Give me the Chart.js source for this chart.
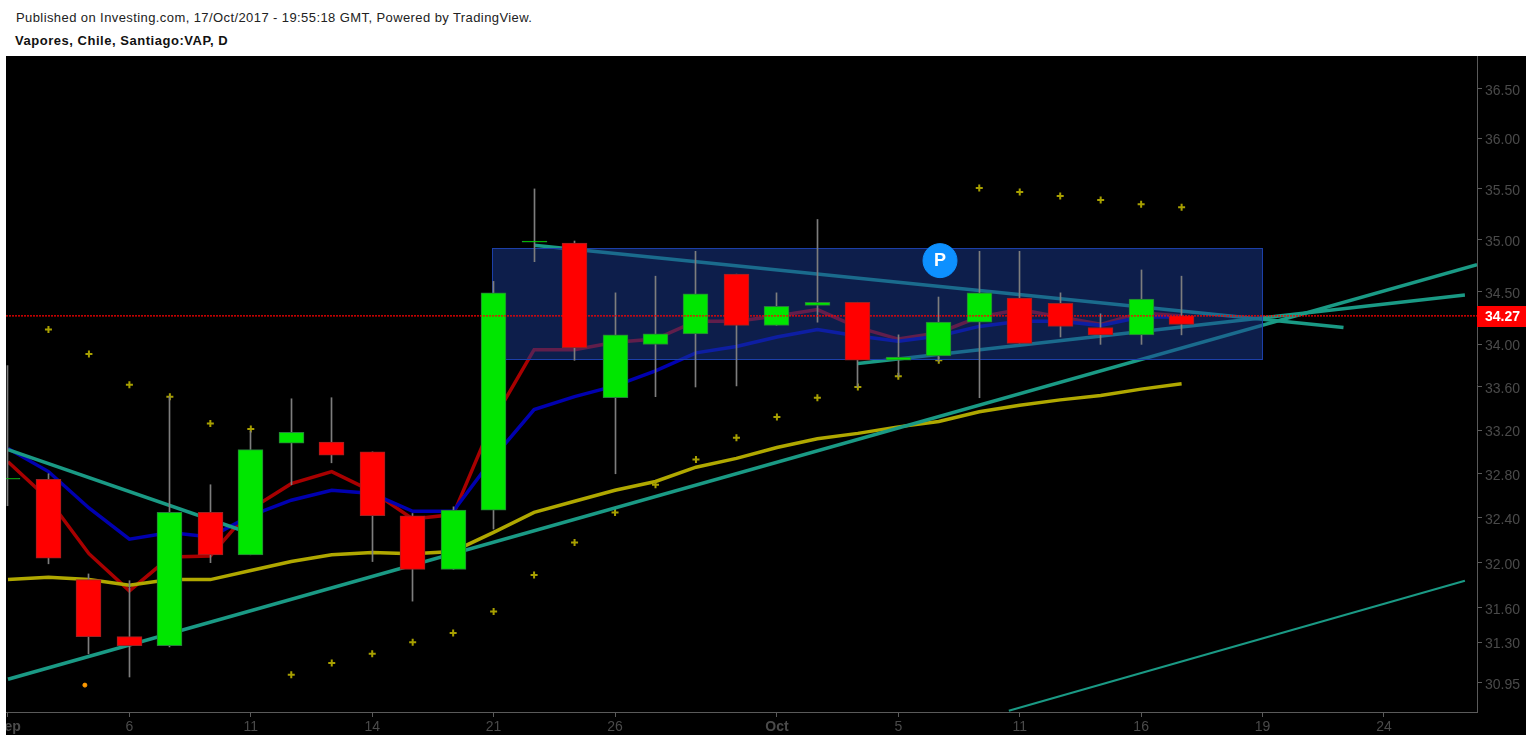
<!DOCTYPE html>
<html>
<head>
<meta charset="utf-8">
<title>Vapores, Chile, Santiago:VAP, D</title>
<script src="https://cdn.jsdelivr.net/npm/chart.js@4"></script>
<style>
  html, body { margin: 0; padding: 0; background: #fff; overflow: hidden; }
  #published { position: absolute; left: 16px; top: 10px; font: 13px "Liberation Sans", Arial, sans-serif; color: #222; letter-spacing: 0.41px; white-space: nowrap; }
  #title { position: absolute; left: 15px; top: 33px; font: bold 13px "Liberation Sans", Arial, sans-serif; color: #111; letter-spacing: 0.53px; white-space: nowrap; }
  #chart { position: absolute; left: 6px; top: 56px; background: #000; }
</style>
</head>
<body>
<div id="published">Published on Investing.com, 17/Oct/2017 - 19:55:18 GMT, Powered by TradingView.</div>
<div id="title">Vapores, Chile, Santiago:VAP, D</div>
<canvas id="chart" width="1520" height="679"></canvas>
<script>
'use strict';

// ******** DATA **************
// one entry per trading day, x is the day's slot on the time axis
let opens  = [32.75, 32.75, 31.85, 31.35, 31.27, 32.45, 32.07, 33.08, 33.09, 33.00, 32.42, 31.94, 32.47, 34.98, 34.97, 33.50, 34.00, 34.10, 34.67, 34.18, 34.37, 34.40, 33.85, 33.89, 34.21, 34.44, 34.39, 34.16, 34.09, 34.27];
let highs  = [33.80, 32.80, 31.90, 31.84, 33.51, 32.70, 33.19, 33.49, 33.50, 33.00, 32.44, 32.50, 34.60, 35.50, 34.99, 34.49, 34.65, 34.89, 34.67, 34.49, 35.20, 34.40, 34.09, 34.45, 34.89, 34.89, 34.49, 34.29, 34.71, 34.65];
let lows   = [32.51, 31.99, 31.20, 31.00, 31.26, 32.00, 32.07, 32.70, 32.90, 32.01, 31.66, 31.94, 32.30, 34.79, 33.85, 32.80, 33.51, 33.60, 33.61, 34.18, 34.21, 33.60, 33.70, 33.84, 33.50, 34.01, 34.07, 34.00, 34.00, 34.09];
let closes = [32.75, 32.04, 31.35, 31.27, 32.45, 32.07, 33.02, 33.18, 32.97, 32.42, 31.94, 32.47, 34.49, 34.98, 33.97, 34.09, 34.10, 34.48, 34.18, 34.36, 34.40, 33.85, 33.88, 34.21, 34.49, 34.01, 34.17, 34.09, 34.43, 34.19];

let redAverage    = [32.91, 32.57, 32.08, 31.75, 32.05, 32.06, 32.48, 32.71, 32.82, 32.64, 32.39, 32.43, 33.30, 33.95, 33.95, 34.02, 34.05, 34.22, 34.22, 34.27, 34.33, 34.16, 34.05, 34.11, 34.26, 34.33, 34.26, 34.19, 34.30, 34.27];
let blueAverage   = [33.03, 32.82, 32.49, 32.21, 32.27, 32.23, 32.42, 32.56, 32.65, 32.62, 32.46, 32.46, 32.95, 33.39, 33.51, 33.61, 33.75, 33.92, 33.98, 34.07, 34.14, 34.08, 34.03, 34.08, 34.17, 34.22, 34.22, 34.18, 34.26, 34.26];
let yellowAverage = [31.85, 31.87, 31.85, 31.80, 31.85, 31.85, 31.93, 32.01, 32.07, 32.09, 32.08, 32.10, 32.27, 32.45, 32.55, 32.65, 32.73, 32.86, 32.94, 33.04, 33.12, 33.17, 33.23, 33.28, 33.37, 33.43, 33.48, 33.52, 33.58, 33.63];

// parabolic SAR starts on the second day
let sarValues = [34.14, 33.91, 33.62, 33.51, 33.26, 33.21, 31.02, 31.12, 31.20, 31.30, 31.38, 31.57, 31.89, 32.18, 32.45, 32.70, 32.93, 33.13, 33.32, 33.50, 33.60, 33.70, 33.85, 35.51, 35.47, 35.43, 35.39, 35.35, 35.32];

// drawn trend lines: [slot, price] at both ends
let trendRising  = [[0, 30.98], [36.3, 34.76]];
let trendFalling = [[0, 33.02], [6, 32.26]];
let trendUpper   = [[13, 34.95], [33, 34.16]];
let trendLower   = [[21, 33.82], [36, 34.47]];
let trendChannel = [[24.73, 30.71], [36, 31.84]];

let boxSlots  = [11.97, 31];
let boxPrices = [33.86, 34.92];

let lastPrice = 34.27;
let lastPriceSlots = [-0.049, 36.299];
let markerPoint = [23.03, 34.80];
let orangePoint = [1.9, 30.93];

let tickPrices = [30.95, 31.30, 31.60, 32.00, 32.40, 32.80, 33.20, 33.60, 34.00, 34.50, 35.00, 35.50, 36.00, 36.50];
let tickSlots  = [0, 3, 6, 9, 12, 15, 19, 22, 25, 28, 31, 34];
let tickDays   = ['Sep', '6', '11', '14', '21', '26', 'Oct', '5', '11', '16', '19', '24'];

// ********* COLOURS ****************
let upColor = '#00e600';
let upEdge = '#2a7a3c';
let downColor = '#ff0000';
let downEdge = '#9c2222';
let wickColor = '#7d7d7d';
let trendColor = '#1a9a85';
let axisColor = '#5a5a5a';
let labelColor = '#4a4a4a';
let labelFont = '14px "Liberation Sans", Arial, sans-serif';

// *********** HELPER FUNCTIONS ***************

function bySlot(values, firstSlot = 0){
  return values.map((value, i) => ({x: i + firstSlot, y: value}));
}

function toPoints(pairs){
  return pairs.map(pair => ({x: pair[0], y: pair[1]}));
}

function lineSet(label, points, color, width, order){
  return {
    type: 'line',
    label: label,
    data: points,
    borderColor: color,
    borderWidth: width,
    pointRadius: 0,
    tension: 0,
    order: order
  };
}

// ********* PLUGIN ****************
let overlayPlugin = {
  id: 'overlay',
  beforeDatasetDraw(chart, args){
    let label = chart.data.datasets[args.index].label;
    // keep candles on whole pixels so the wicks stay crisp
    if (label === 'wicks' || label === 'bodies') {
      args.meta.data.forEach(bar => {
        bar.x = Math.floor(bar.x) + 0.5;
      });
    }
    if (label !== 'wicks') {
      return;
    }
    // the blue box sits over the lines but under the candles
    let ctx = chart.ctx;
    let x = chart.scales.x;
    let y = chart.scales.y;
    let left = x.getPixelForValue(boxSlots[0]);
    let right = x.getPixelForValue(boxSlots[1]);
    let top = y.getPixelForValue(boxPrices[1]);
    let bottom = y.getPixelForValue(boxPrices[0]);
    ctx.save();
    ctx.fillStyle = 'rgba(26, 60, 150, 0.5)';
    ctx.fillRect(left, top, right - left, bottom - top);
    ctx.strokeStyle = '#1c3fa8';
    ctx.lineWidth = 1;
    ctx.strokeRect(Math.round(left) + 0.5, Math.round(top) + 0.5, Math.round(right - left), Math.round(bottom - top));
    ctx.restore();
  },
  afterDraw(chart){
    let ctx = chart.ctx;
    let x = chart.scales.x;
    let y = chart.scales.y;
    let priceY = y.getPixelForValue(lastPrice);
    ctx.save();
    // price labels sit a little under their tick marks
    ctx.fillStyle = labelColor;
    ctx.font = labelFont;
    ctx.textAlign = 'left';
    ctx.textBaseline = 'middle';
    tickPrices.forEach(price => {
      ctx.fillText(price.toFixed(2), chart.chartArea.right + 8, y.getPixelForValue(price) + 2);
    });
    ctx.fillStyle = '#ff0000';
    ctx.fillRect(chart.chartArea.right, Math.round(priceY) - 10, 49, 21);
    ctx.fillStyle = '#ffffff';
    ctx.font = 'bold 14px "Liberation Sans", Arial, sans-serif';
    ctx.textAlign = 'center';
    ctx.fillText(lastPrice.toFixed(2), chart.chartArea.right + 25.5, priceY + 1);
    ctx.font = 'bold 18px "Liberation Sans", Arial, sans-serif';
    ctx.fillText('P', x.getPixelForValue(markerPoint[0]), y.getPixelForValue(markerPoint[1]) + 0.5);
    ctx.restore();
  }
};

// ********* CHART ****************
let lastPriceLine = lineSet('last price', toPoints(lastPriceSlots.map(slot => [slot, lastPrice])), '#ff0000', 1.2, 1);
lastPriceLine.borderDash = [2, 1];

let chartSettings = {
  type: 'bar',
  data: {
    datasets: [
      lastPriceLine,
      {
        type: 'scatter',
        label: 'marker',
        data: [{x: markerPoint[0], y: markerPoint[1]}],
        backgroundColor: '#0d90ff',
        borderColor: '#0d90ff',
        pointRadius: 17,
        pointHoverRadius: 17,
        order: 2
      },
      {
        type: 'bar',
        label: 'bodies',
        data: opens.map((open, i) => ({x: i, y: [open, closes[i]]})),
        backgroundColor: opens.map((open, i) => closes[i] >= open ? upColor : downColor),
        borderColor: opens.map((open, i) => closes[i] >= open ? upEdge : downEdge),
        borderWidth: 1,
        borderSkipped: false,
        barThickness: 25,
        minBarLength: 1,
        grouped: false,
        order: 3
      },
      {
        type: 'bar',
        label: 'wicks',
        data: highs.map((high, i) => ({x: i, y: [lows[i], high]})),
        backgroundColor: wickColor,
        barThickness: 1,
        grouped: false,
        order: 4
      },
      lineSet('rising', toPoints(trendRising), trendColor, 3.5, 5),
      lineSet('falling', toPoints(trendFalling), trendColor, 3.5, 5),
      lineSet('upper', toPoints(trendUpper), trendColor, 3.5, 5),
      lineSet('lower', toPoints(trendLower), trendColor, 3.5, 5),
      lineSet('channel', toPoints(trendChannel), trendColor, 2, 5),
      {
        type: 'scatter',
        label: 'sar',
        data: bySlot(sarValues, 1),
        pointStyle: 'cross',
        pointRadius: 3.5,
        pointBorderWidth: 2,
        borderColor: '#a8a000',
        backgroundColor: '#a8a000',
        order: 6
      },
      {
        type: 'scatter',
        label: 'orange',
        data: [{x: orangePoint[0], y: orangePoint[1]}],
        pointRadius: 2,
        backgroundColor: '#ff9a00',
        borderColor: '#ff9a00',
        order: 6
      },
      lineSet('yellow', bySlot(yellowAverage), '#b0a800', 3.5, 7),
      lineSet('blue', bySlot(blueAverage), '#0000b0', 3.5, 8),
      lineSet('red', bySlot(redAverage), '#a80000', 3.5, 9)
    ]
  },
  options: {
    responsive: false,
    animation: false,
    layout: {padding: 0, autoPadding: false},
    plugins: {
      legend: {display: false},
      tooltip: {enabled: false}
    },
    scales: {
      x: {
        type: 'linear',
        min: lastPriceSlots[0],
        max: lastPriceSlots[1],
        offset: false,
        grid: {drawOnChartArea: false, offset: false, color: axisColor, tickLength: 5},
        border: {color: axisColor},
        ticks: {
          autoSkip: false,
          maxRotation: 0,
          color: labelColor,
          padding: 2,
          font: context => {
            let bold = context.tick && isNaN(parseInt(context.tick.label));
            return {family: '"Liberation Sans", Arial, sans-serif', size: 14, weight: bold ? 'bold' : 'normal'};
          },
          callback: value => tickDays[tickSlots.indexOf(value)]
        },
        afterBuildTicks: scale => {
          scale.ticks = tickSlots.map(slot => ({value: slot}));
        },
        afterFit: scale => {
          scale.height = 23;
          scale.paddingLeft = 0;
          scale.paddingRight = 0;
        }
      },
      y: {
        type: 'logarithmic',
        position: 'right',
        min: 30.718,
        max: 36.835,
        grid: {drawOnChartArea: false, color: axisColor, tickLength: 5},
        border: {color: axisColor},
        ticks: {
          autoSkip: false,
          color: 'rgba(0, 0, 0, 0)',
          padding: 4,
          font: {family: '"Liberation Sans", Arial, sans-serif', size: 14},
          callback: value => Number(value).toFixed(2)
        },
        afterBuildTicks: scale => {
          scale.ticks = tickPrices.map(price => ({value: price}));
        },
        afterFit: scale => {
          scale.width = 49;
          scale.paddingTop = 0;
          scale.paddingBottom = 0;
        }
      }
    }
  },
  plugins: [overlayPlugin]
};

new Chart(document.getElementById('chart'), chartSettings);
</script>
</body>
</html>
